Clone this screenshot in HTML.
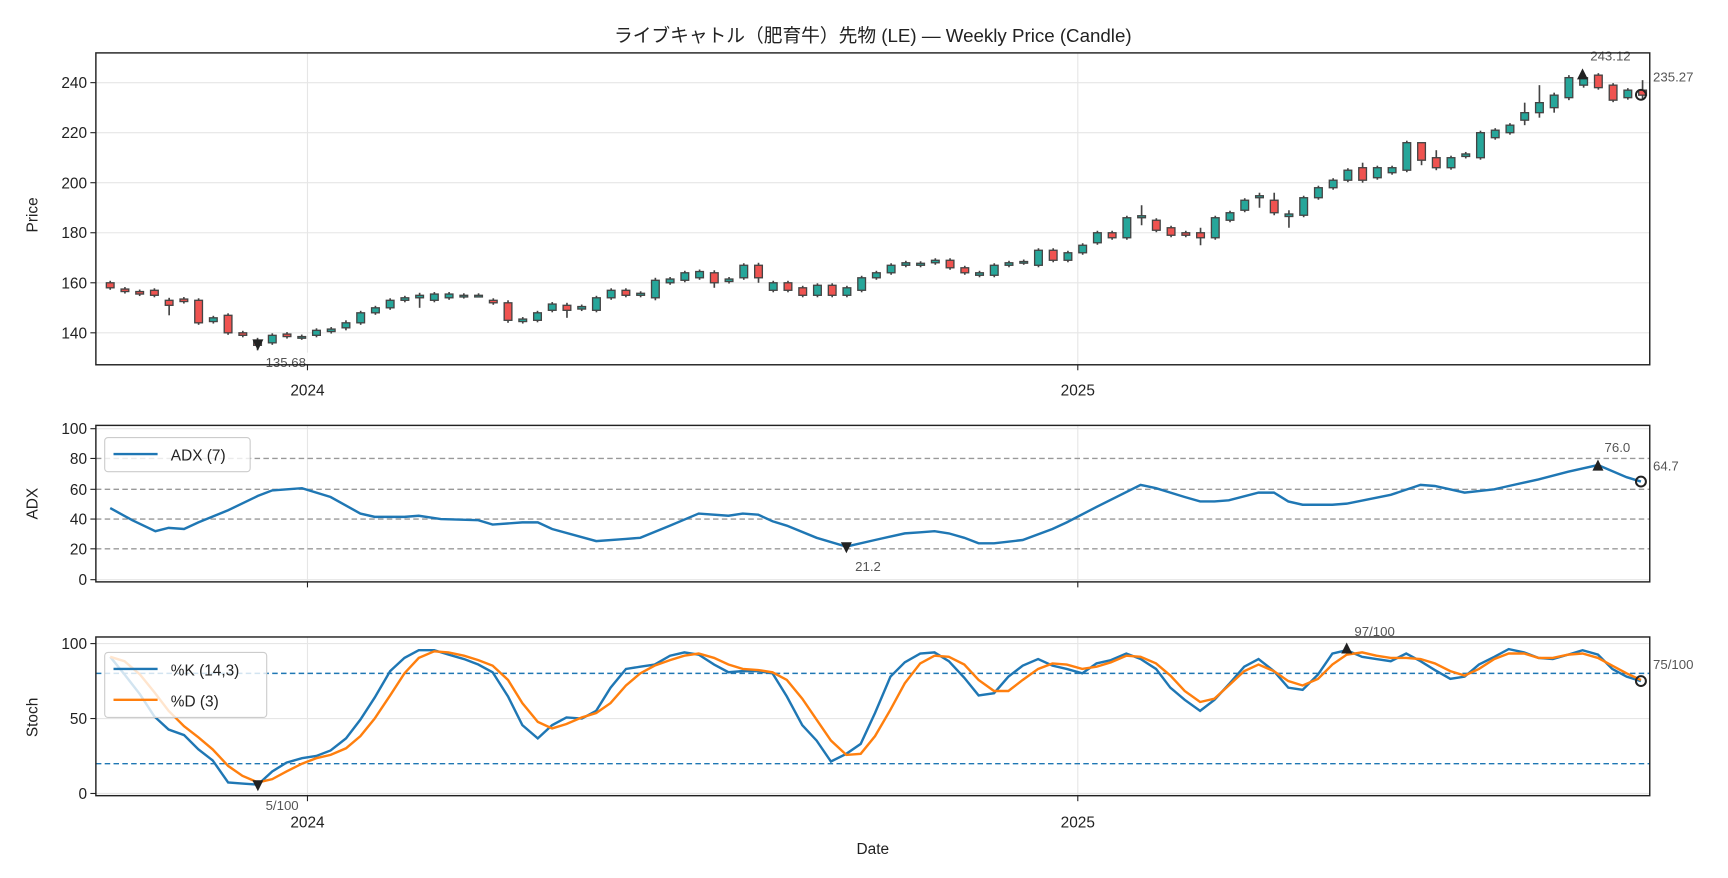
<!DOCTYPE html>
<html><head><meta charset="utf-8"><style>
html,body{margin:0;padding:0;background:#fff;}
svg{display:block;font-family:"Liberation Sans","Noto Sans CJK JP",sans-serif;}
</style></head><body>
<svg id="s" width="1728" height="878" viewBox="0 0 1568 796.7" preserveAspectRatio="none" xmlns="http://www.w3.org/2000/svg">
<rect width="1568" height="797" fill="#fff"/>
<text x="792" y="38" font-size="17" text-anchor="middle" fill="#222">ライブキャトル（肥育牛）先物 (LE) — Weekly Price (Candle)</text>
<g stroke="#e6e6e6" stroke-width="1">
<line x1="279" y1="48" x2="279" y2="331"/><line x1="978" y1="48" x2="978" y2="331"/>
<line x1="279" y1="386" x2="279" y2="528"/><line x1="978" y1="386" x2="978" y2="528"/>
<line x1="279" y1="578" x2="279" y2="722"/><line x1="978" y1="578" x2="978" y2="722"/>
<line x1="87" y1="75" x2="1497" y2="75"/><line x1="87" y1="120.4" x2="1497" y2="120.4"/><line x1="87" y1="165.8" x2="1497" y2="165.8"/><line x1="87" y1="211.2" x2="1497" y2="211.2"/><line x1="87" y1="256.6" x2="1497" y2="256.6"/><line x1="87" y1="302" x2="1497" y2="302"/>
<line x1="87" y1="389" x2="1497" y2="389"/><line x1="87" y1="526" x2="1497" y2="526"/>
<line x1="87" y1="584" x2="1497" y2="584"/><line x1="87" y1="652" x2="1497" y2="652"/><line x1="87" y1="720" x2="1497" y2="720"/>
</g>
<g stroke="#999" stroke-width="1.3" stroke-dasharray="5,3">
<line x1="87" y1="416" x2="1497" y2="416"/><line x1="87" y1="444" x2="1497" y2="444"/><line x1="87" y1="471" x2="1497" y2="471"/><line x1="87" y1="498" x2="1497" y2="498"/>
</g>
<g stroke="#1f77b4" stroke-width="1.3" stroke-dasharray="5,3">
<line x1="87" y1="611" x2="1497" y2="611"/><line x1="87" y1="693" x2="1497" y2="693"/>
</g>
<g id="candles"></g>
<polyline fill="none" stroke="#1f77b4" stroke-width="2.2" points="100,461 120,472 141,482 153,479 167,480 180,474 207,463 234,450 247,445 274,443 300,451 327,466 340,469 367,469 380,468 400,471 434,472 447,476 474,474 488,474 501,480 541,491 568,489 581,488 608,477 634,466 661,468 674,466 688,467 701,473 714,477 741,488 768,496 794,490 821,484 835,483 848,482 861,484 875,488 888,493 902,493 928,490 955,480 968,474 995,460 1035,440 1049,443 1075,451 1089,455 1102,455 1115,454 1142,447 1156,447 1169,455 1182,458 1209,458 1222,457 1262,449 1289,440 1302,441 1329,447 1356,444 1369,441 1396,435 1423,428 1450,422 1476,433 1489,437"/>
<polyline fill="none" stroke="#1f77b4" stroke-width="2.2" points="100,596 113,612 127,630 140,650 153,662 167,667 180,680 193,690 207,710 220,711 234,712 247,700 260,692 274,688 287,686 300,681 314,670 327,653 340,633 354,609 367,597 380,590 394,590 407,594 421,598 434,603 447,610 461,632 474,658 488,670 501,658 514,651 528,652 541,645 554,624 568,607 581,605 594,603 608,595 621,592 634,594 648,603 661,610 674,609 688,609 701,611 714,632 728,658 741,672 754,691 768,684 781,675 794,647 808,614 821,601 835,593 848,592 861,600 875,615 888,631 902,629 915,614 928,604 942,598 955,604 968,607 982,611 995,602 1008,599 1022,593 1035,598 1049,607 1062,624 1075,635 1089,645 1102,635 1115,621 1129,605 1142,598 1156,609 1169,624 1182,626 1196,612 1209,593 1222,590 1236,596 1249,598 1262,600 1276,593 1289,600 1302,608 1316,616 1329,614 1342,603 1356,596 1369,589 1383,592 1396,597 1409,598 1423,594 1436,590 1450,594 1463,607 1476,614 1489,618"/>
<polyline fill="none" stroke="#ff7f0e" stroke-width="2.2" points="100,596 113,600 127,612 140,628 153,645 167,659 180,669 193,680 207,695 220,704 234,710 247,707 260,700 274,693 287,688 300,685 314,679 327,668 340,652 354,631 367,611 380,597 394,591 407,592 421,595 434,599 447,604 461,617 474,638 488,655 501,661 514,657 528,651 541,647 554,638 568,622 581,611 594,604 608,599 621,595 634,593 648,597 661,603 674,607 688,608 701,610 714,617 728,634 741,653 754,672 768,685 781,684 794,668 808,644 821,620 835,602 848,595 861,596 875,603 888,617 902,627 915,627 928,617 942,607 955,602 968,603 982,607 995,605 1008,601 1022,595 1035,596 1049,602 1062,613 1075,627 1089,637 1102,634 1115,622 1129,609 1142,603 1156,609 1169,618 1182,622 1196,616 1209,603 1222,594 1236,592 1249,595 1262,597 1276,597 1289,598 1302,602 1316,609 1329,613 1342,607 1356,598 1369,593 1383,593 1396,597 1409,597 1423,594 1436,593 1450,597 1463,604 1476,611 1489,617"/>
<g fill="#222">
<path d="M229,308 L239,308 L234,318 Z"/><path d="M1431,72 L1441,72 L1436,62 Z"/>
<path d="M763,492 L773,492 L768,502 Z"/><path d="M1445,427 L1455,427 L1450,417 Z"/>
<path d="M229,708 L239,708 L234,718 Z"/><path d="M1217,593 L1227,593 L1222,583 Z"/>
</g>
<g fill="none" stroke="#222" stroke-width="1.8">
<circle cx="1489" cy="86" r="4.5"/><circle cx="1489" cy="437" r="4.5"/><circle cx="1489" cy="618" r="4.5"/>
</g>
<g font-size="12" fill="#555">
<rect x="1440" y="43" width="48" height="14" fill="#fff" opacity="0.8"/>
<text x="1443" y="55">243.12</text>
<rect x="238" y="320" width="48" height="14" fill="#fff" opacity="0.8"/>
<text x="241" y="333">135.68</text>
<text x="1500" y="74">235.27</text>
<text x="776" y="518">21.2</text><text x="1456" y="410">76.0</text><text x="1500" y="427">64.7</text>
<rect x="238" y="723" width="40" height="14" fill="#fff" opacity="0.8"/>
<text x="241" y="735">5/100</text>
<rect x="1226" y="565" width="52" height="14" fill="#fff" opacity="0.8"/>
<text x="1229" y="577">97/100</text><text x="1500" y="607">75/100</text>
</g>
<g fill="none" stroke="#222" stroke-width="1.3">
<rect x="87" y="48" width="1410" height="283"/><rect x="87" y="386" width="1410" height="142"/><rect x="87" y="578" width="1410" height="144"/>
</g>
<g stroke="#222" stroke-width="1">
<line x1="82" y1="75" x2="87" y2="75"/><line x1="82" y1="120.4" x2="87" y2="120.4"/><line x1="82" y1="165.8" x2="87" y2="165.8"/><line x1="82" y1="211.2" x2="87" y2="211.2"/><line x1="82" y1="256.6" x2="87" y2="256.6"/><line x1="82" y1="302" x2="87" y2="302"/>
<line x1="82" y1="389" x2="87" y2="389"/><line x1="82" y1="416" x2="87" y2="416"/><line x1="82" y1="444" x2="87" y2="444"/><line x1="82" y1="471" x2="87" y2="471"/><line x1="82" y1="498" x2="87" y2="498"/><line x1="82" y1="526" x2="87" y2="526"/>
<line x1="82" y1="584" x2="87" y2="584"/><line x1="82" y1="652" x2="87" y2="652"/><line x1="82" y1="720" x2="87" y2="720"/>
<line x1="279" y1="331" x2="279" y2="336"/><line x1="978" y1="331" x2="978" y2="336"/>
<line x1="279" y1="528" x2="279" y2="533"/><line x1="978" y1="528" x2="978" y2="533"/>
<line x1="279" y1="722" x2="279" y2="727"/><line x1="978" y1="722" x2="978" y2="727"/>
</g>
<g font-size="14" fill="#222" text-anchor="end">
<text x="79" y="80">240</text><text x="79" y="125">220</text><text x="79" y="171">200</text><text x="79" y="216">180</text><text x="79" y="262">160</text><text x="79" y="307">140</text>
<text x="79" y="394">100</text><text x="79" y="421">80</text><text x="79" y="449">60</text><text x="79" y="476">40</text><text x="79" y="503">20</text><text x="79" y="531">0</text>
<text x="79" y="589">100</text><text x="79" y="657">50</text><text x="79" y="725">0</text>
</g>
<g font-size="14" fill="#222" text-anchor="middle">
<text x="279" y="359">2024</text><text x="978" y="359">2025</text>
<text x="279" y="751">2024</text><text x="978" y="751">2025</text>
<text x="792" y="775">Date</text>
<text transform="translate(34,195) rotate(-90)">Price</text>
<text transform="translate(34,457) rotate(-90)">ADX</text>
<text transform="translate(34,651) rotate(-90)">Stoch</text>
</g>
<g>
<rect x="95" y="397" width="132" height="31" rx="3" fill="#fff" fill-opacity="0.8" stroke="#ccc"/>
<line x1="103" y1="412" x2="143" y2="412" stroke="#1f77b4" stroke-width="2.2"/>
<text x="155" y="418" font-size="14" fill="#222">ADX (7)</text>
<rect x="95" y="592" width="147" height="59" rx="3" fill="#fff" fill-opacity="0.8" stroke="#ccc"/>
<line x1="103" y1="607" x2="143" y2="607" stroke="#1f77b4" stroke-width="2.2"/>
<line x1="103" y1="635" x2="143" y2="635" stroke="#ff7f0e" stroke-width="2.2"/>
<text x="155" y="613" font-size="14" fill="#222">%K (14,3)</text>
<text x="155" y="641" font-size="14" fill="#222">%D (3)</text>
</g>
</svg>
<script>
var d=[[160,158],[157.5,156.5],[156.5,155.5],[157,155],[153,151],[153.5,152.5],[153,144],[144.5,146],[147,140],[140,139],[137,135],[136,139],[139.5,138.5],[138,138.5],[139,141],[140.5,141.5],[142,144],[144,148],[148,150],[150,153],[153,154],[154,155],[153,155.5],[154,155.5],[154.5,155],[155,155],[153,152],[152,145],[144.5,145.5],[145,148],[149,151.5],[151,149],[149.5,150.5],[149,154],[154,157],[157,155],[155,155.8],[154,161],[160,161.5],[161,164],[162,164.5],[164,160],[160.5,161.5],[162,167],[167,162],[157,160],[160,157],[158,155],[155,159],[159,155],[155,158],[157,162],[162,164],[164,167],[167,168],[167,167.8],[168,169],[169,166],[166,164],[163,164],[163,167],[167,168],[168,168.5],[167,173],[173,169],[169,172],[172,175],[176,180],[180,178],[178,186],[186,186.8],[185,181],[182,179],[180,179],[180,178],[178,186],[185,188],[189,193],[194,194.8],[193,188],[186.5,187.5],[187,194],[194,198],[198,201],[201,205],[206,201],[202,206],[204,206],[205,216],[216,209],[210,206],[206,210],[210.5,211.5],[210,220],[218,221],[220,223],[225,228],[228,232],[230,235],[234,242],[239,242],[243,238],[239,233],[234,237],[237,235]];
var hl={4:[147,154],10:[133,138],16:[141,145],21:[150,156],27:[144,153],31:[146,152],37:[153,162],41:[158,165],44:[160,168],70:[183,191],74:[175,182],78:[190,196],79:[187,196],80:[182,189],85:[200,208],89:[207,214],90:[205,213],96:[223,232],97:[226,239],98:[228,236],99:[233,243],100:[238,244],104:[233,241]};
var g=document.getElementById('candles'),s='';
function Y(v){return 302-(v-140)*2.27;}
for(var i=0;i<d.length;i++){var o=d[i][0],c=d[i][1],x=100+i*13.37;
var hi=Math.max(o,c)+0.8,lo=Math.min(o,c)-0.8;if(hl[i]){lo=hl[i][0];hi=hl[i][1];}
var col=c>=o?'#26a69a':'#ef5350';
s+='<line x1="'+x+'" x2="'+x+'" y1="'+Y(hi)+'" y2="'+Y(lo)+'" stroke="#444" stroke-width="1.5"/>';
var t=Y(Math.max(o,c)),h=Math.max(Math.abs(Y(o)-Y(c)),1.5);
s+='<rect x="'+(x-3.5)+'" y="'+t+'" width="7" height="'+h+'" fill="'+col+'" stroke="#444" stroke-width="1.2"/>';}
g.innerHTML=s;
</script>
</body></html>
